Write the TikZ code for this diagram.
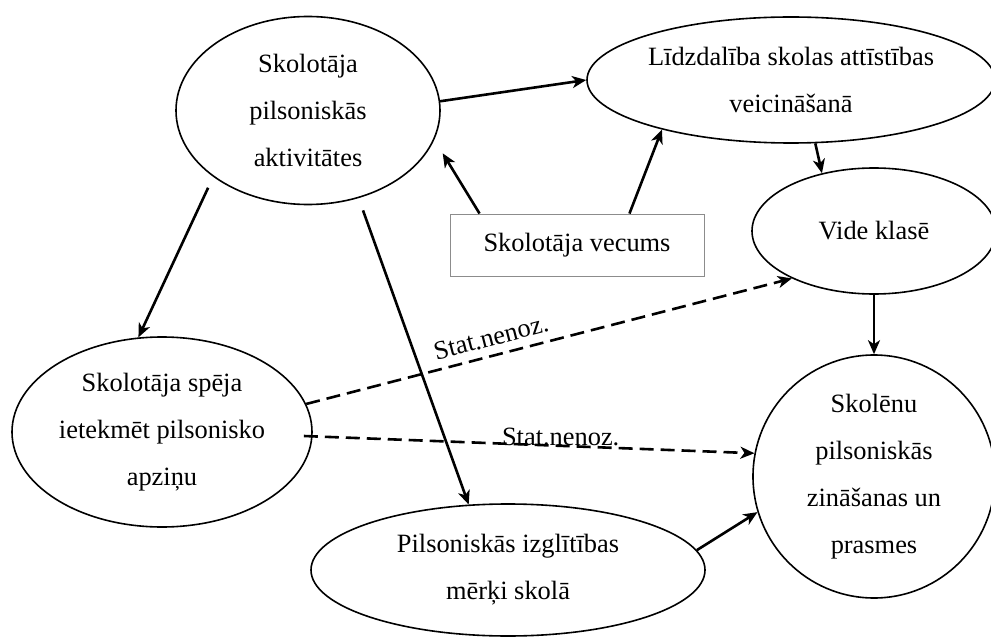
\documentclass[tikz,border=0pt]{standalone}
\usepackage{fontspec}
\setmainfont{Liberation Serif}
\usetikzlibrary{arrows.meta,calc,shapes.geometric}
\begin{document}
\begin{tikzpicture}[x=1pt,y=-1pt,
  every node/.style={font=\fontsize{26.4}{47}\selectfont},
  ell/.style={ellipse, draw, line width=1.6pt, inner sep=0pt, align=center},
  agebox/.style={rectangle, draw=black!45, line width=0.9pt,
                 minimum width=254pt, minimum height=62pt, inner sep=0pt},
  link/.style={line width=2.6pt, -{Stealth[length=14pt,width=12pt,inset=4pt]}},
  weak/.style={link, dash pattern=on 14pt off 7pt},
  lbl/.style={inner sep=0pt}
]
\useasboundingbox (0,0) rectangle (991,639);
\clip (0,0) rectangle (991,639);

% factors
\node[ell, minimum width=264pt, minimum height=188pt] (act) at (308,110.5)
  {Skolotāja\\pilsoniskās\\aktivitātes};
\node[ell, minimum width=408pt, minimum height=126pt] (part) at (791,80)
  {Līdzdalība skolas attīstības\\veicināšanā};
\node[ell, minimum width=244pt, minimum height=126pt] (env) at (874,231)
  {Vide klasē};
\node[ell, minimum width=300pt, minimum height=190pt] (abil) at (162,432)
  {Skolotāja spēja\\ietekmēt pilsonisko\\apziņu};
\node[ell, minimum width=242pt, minimum height=243pt] (stud) at (874,476.5)
  {Skolēnu\\pilsoniskās\\zināšanas un\\prasmes};
\node[ell, minimum width=394pt, minimum height=132pt] (goal) at (508,570)
  {Pilsoniskās izglītības\\mērķi skolā};
\node[agebox] (age) at (577,245) {Skolotāja vecums};

% significant links
\draw[link] (act.4) -- (part.180);
\draw[link, shorten >=16pt] ($(age.north west)+(30,0)$) -- (act.-13);
\draw[link] ($(age.north east)+(-75,0)$) -- (part.201);
\draw[link] (part.-69) -- (env.132);
\draw[link] (env.south) -- (stud.north);
\draw[link, shorten <=12pt] (act.215) -- (abil.104);
\draw[link, shorten <=13pt] (act.-60) -- (goal.121);
\draw[link] (goal.6) -- (stud.197);

% non-significant links
\draw[weak] (abil.11) -- node[lbl, sloped, above=8pt, pos=0.39] {Stat.nenoz.} (env.210);
\draw[weak] ($(abil.east)+(-9,4)$) -- node[lbl, pos=0.57, anchor=base] {Stat.nenoz.} (stud.169);
\end{tikzpicture}
\end{document}
